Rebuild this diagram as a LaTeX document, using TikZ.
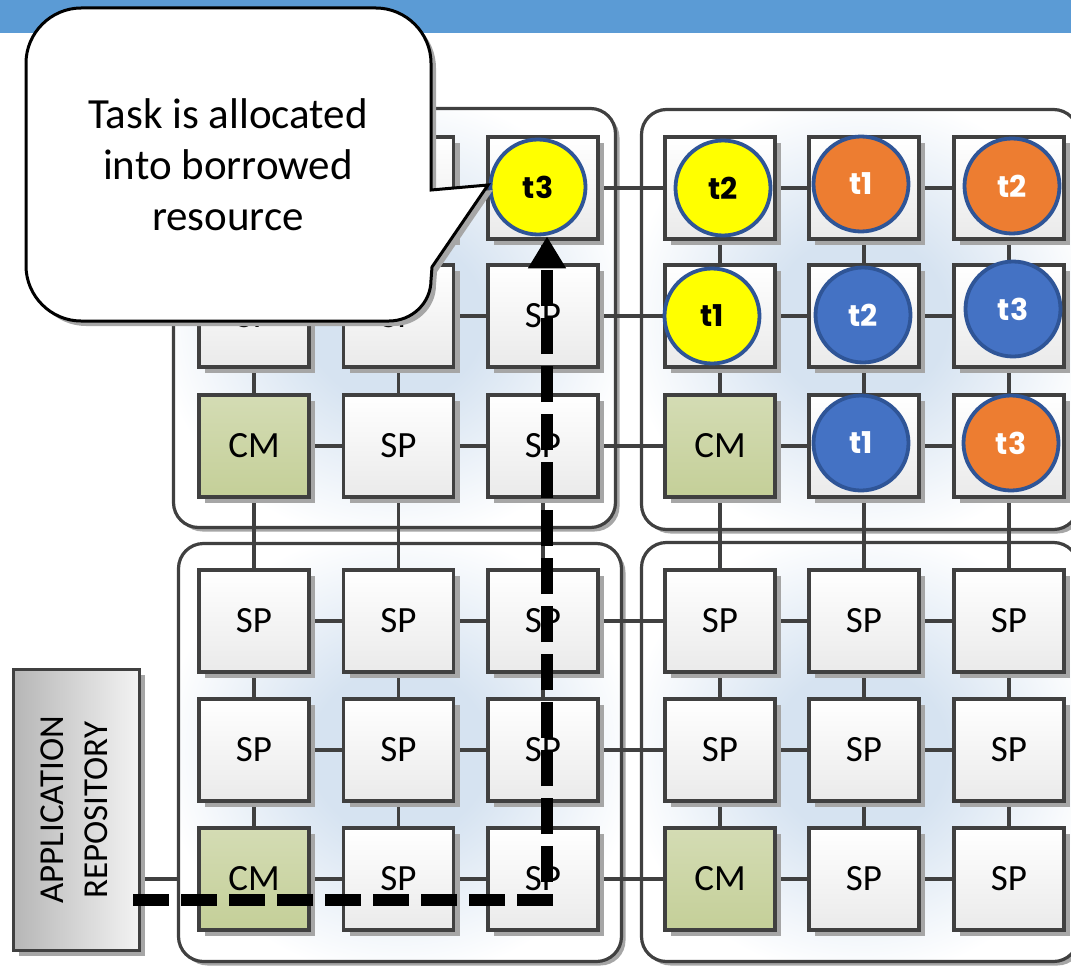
\documentclass[tikz,border=0pt]{standalone}
\usepackage{fontspec}
\setmainfont{Carlito}
\newfontfamily\circfont{Poppins}
\usepackage{graphicx}
\usetikzlibrary{shadows,arrows.meta,calc}
\pgfdeclarelayer{back}
\pgfdeclarelayer{edges}
\pgfsetlayers{back,edges,main}

\definecolor{barblue}{RGB}{91,155,213}
\definecolor{edgegray}{RGB}{64,64,64}
\definecolor{sqbot}{RGB}{234,234,234}
\definecolor{cmtop}{RGB}{212,220,180}
\definecolor{cmbot}{RGB}{196,207,152}
\definecolor{glow}{RGB}{214,227,241}
\definecolor{ring}{RGB}{47,85,151}
\definecolor{tyel}{RGB}{255,255,0}
\definecolor{tora}{RGB}{237,125,49}
\definecolor{tblu}{RGB}{68,114,196}
\definecolor{repodark}{RGB}{182,182,182}
\definecolor{repolight}{RGB}{243,243,243}
\definecolor{shad}{RGB}{166,166,166}

\pgfdeclareradialshading{clusterglow}{\pgfpoint{0bp}{0bp}}{color(0bp)=(glow); color(10bp)=(glow); color(27bp)=(white); color(50bp)=(white)}

\tikzset{
  sqbox/.style={draw=edgegray, line width=3.2pt, minimum width=110pt, minimum height=102pt,
    inner sep=0pt, top color=white, bottom color=sqbot,
    drop shadow={shadow xshift=6pt, shadow yshift=-6pt, fill=shad, opacity=1},
    font=\fontsize{37}{40}\selectfont},
  cmbox/.style={sqbox, top color=cmtop, bottom color=cmbot},
  cluster/.style={draw=edgegray, line width=3.2pt, rounded corners=25pt, inner sep=0pt,
    shading=clusterglow,
    drop shadow={shadow xshift=4pt, shadow yshift=-4pt, fill=shad, opacity=1}},
  wire/.style={draw=edgegray, line width=3.2pt},
  task/.style={circle, draw=ring, line width=3.8pt, minimum size=95pt, inner sep=0pt,
    font=\circfont\bfseries\fontsize{30}{32}\selectfont},
  route/.style={line width=12pt, dash pattern=on 36pt off 12pt, line join=miter,
    -{Triangle[width=36pt,length=32pt]}},
  callout/.style={draw=black, line width=3pt, fill=white,
    preaction={fill=black!35, transform canvas={xshift=5pt,yshift=-5pt}}},
}

\begin{document}
\begin{tikzpicture}[x=1pt,y=-1pt]
\useasboundingbox (0,0) rectangle (1071,966);
\fill[barblue] (0,0) rectangle (1071,33);

% clusters
\begin{pgfonlayer}{back}
\node[cluster, minimum width=442pt, minimum height=419pt] (kTL) at (394.5,318) {};
\node[cluster, minimum width=437pt, minimum height=420pt] (kTR) at (860,319.5) {};
\node[cluster, minimum width=443pt, minimum height=418pt] (kBL) at (400,752.5) {};
\node[cluster, minimum width=437pt, minimum height=419pt] (kBR) at (860,752) {};
\end{pgfonlayer}

% processing elements
\foreach \r/\c/\k/\t in {
  1/1/sqbox/{}, 1/2/sqbox/{}, 1/3/sqbox/{}, 1/4/sqbox/{}, 1/5/sqbox/{}, 1/6/sqbox/{},
  2/1/sqbox/SP, 2/2/sqbox/SP, 2/3/sqbox/SP, 2/4/sqbox/{}, 2/5/sqbox/{}, 2/6/sqbox/{},
  3/1/cmbox/CM, 3/2/sqbox/SP, 3/3/sqbox/SP, 3/4/cmbox/CM, 3/5/sqbox/{}, 3/6/sqbox/{},
  4/1/sqbox/SP, 4/2/sqbox/SP, 4/3/sqbox/SP, 4/4/sqbox/SP, 4/5/sqbox/SP, 4/6/sqbox/SP,
  5/1/sqbox/SP, 5/2/sqbox/SP, 5/3/sqbox/SP, 5/4/sqbox/SP, 5/5/sqbox/SP, 5/6/sqbox/SP,
  6/1/cmbox/CM, 6/2/sqbox/SP, 6/3/sqbox/SP, 6/4/cmbox/CM, 6/5/sqbox/SP, 6/6/sqbox/SP}{
  \pgfmathsetmacro\xx{{254,398.5,543,720,864,1009}[\c-1]}
  \pgfmathsetmacro\yy{{188,316,446,621,750,879}[\r-1]}
  \node[\k] (s-\r-\c) at (\xx,\yy) {\t};
}

% mesh connectors
\begin{pgfonlayer}{edges}
\foreach \r in {1,...,6}{
  \foreach \c [evaluate=\c as \n using int(\c+1)] in {1,...,5}{
    \draw[wire] (s-\r-\c) -- (s-\r-\n);
  }
}
\foreach \c in {1,...,6}{
  \foreach \r [evaluate=\r as \n using int(\r+1)] in {1,...,5}{
    \draw[wire] (s-\r-\c) -- (s-\n-\c);
  }
}
\end{pgfonlayer}

% tasks
\node[task, fill=tyel] (t-1-3) at (538,187) {t3};
\node[task, fill=tyel] (t-1-4) at (723,188) {t2};
\node[task, fill=tora, text=white] (t-1-5) at (861,184) {t1};
\node[task, fill=tora, text=white] (t-1-6) at (1012,186) {t2};
\node[task, fill=tyel] (t-2-4) at (712,316) {t1};
\node[task, fill=tblu, text=white] (t-2-5) at (863,315) {t2};
\node[task, fill=tblu, text=white] (t-2-6) at (1013,309) {t3};
\node[task, fill=tblu, text=white] (t-3-5) at (861,443) {t1};
\node[task, fill=tora, text=white] (t-3-6) at (1011,443) {t3};

% application repository
\node[draw=edgegray, line width=3pt, minimum width=126pt, minimum height=281pt, inner sep=0pt,
  left color=repodark, right color=repolight,
  drop shadow={shadow xshift=5pt, shadow yshift=-5pt, fill=shad, opacity=1}]
  (repo) at (76.5,810)
  {\rotatebox{90}{\fontsize{35}{44}\selectfont\begin{tabular}{@{}c@{}}APPLICATION\\REPOSITORY\end{tabular}}};
\begin{pgfonlayer}{edges}
\draw[wire] (repo.east |- s-6-1) -- (kBL.west |- s-6-1);
\end{pgfonlayer}

% allocation route
\coordinate (dstart) at (133,900);
\coordinate (dturn) at (547,900);
\draw[route] (dstart) -- (dturn) -- (dturn |- t-1-3.south);

% callout
\path[callout] (81,8) -- (376,8) .. controls (406,8) and (431,33) .. (431,63)
  -- (431,190) -- (488,185) -- (432,267) -- (431,280)
  .. controls (431,303) and (412,321) .. (389,321)
  -- (81,321) .. controls (51,321) and (26,296) .. (26,266)
  -- (26,63) .. controls (26,33) and (51,8) .. (81,8) -- cycle;
\node[font=\fontsize{43}{51}\selectfont, align=center, inner sep=0pt] (note) at (228,165)
  {Task is allocated\\into borrowed\\resource};
\end{tikzpicture}
\end{document}
